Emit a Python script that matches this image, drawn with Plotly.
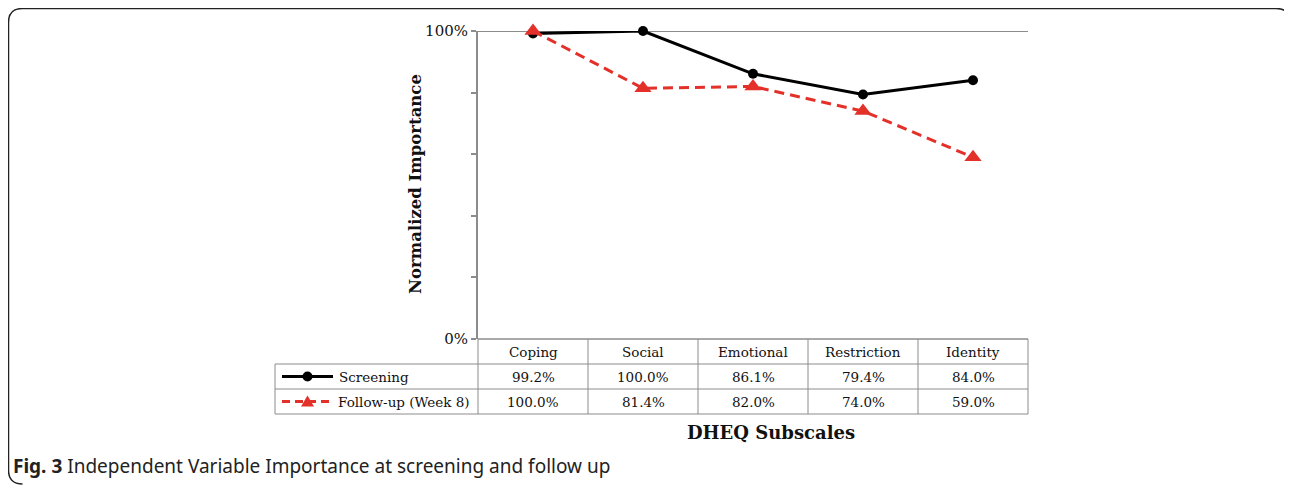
import plotly.graph_objects as go

categories = ["Coping", "Social", "Emotional", "Restriction", "Identity"]
screening = [99.2, 100.0, 86.1, 79.4, 84.0]
followup = [100.0, 81.4, 82.0, 74.0, 59.0]
series_names = ["Screening", "Follow-up (Week 8)"]
y_tickvals = [0, 20, 40, 60, 80, 100]
y_ticktext = ["0%", "", "", "", "", "100%"]

OFF = 8  # page body margin
W, H = 1292, 485
X0, X1, YT, YB = 478, 1028, 31, 339
PW, PH = X1 - X0, YB - YT

def px(x):
    return (x - X0) / PW

def py(y):
    return (YB - y) / PH

BLACK = "#000000"
RED = "#E3312A"
GRID = "#8C8C8C"
SERIF = "DejaVu Serif"

fig = go.Figure()
fig.add_trace(go.Scatter(
    x=categories, y=screening, name=series_names[0], mode="lines+markers",
    line=dict(color=BLACK, width=3),
    marker=dict(symbol="circle", size=10, color=BLACK),
    cliponaxis=False, showlegend=False))
fig.add_trace(go.Scatter(
    x=categories, y=followup, name=series_names[1], mode="lines+markers",
    line=dict(color=RED, width=3, dash="10px,6px"),
    marker=dict(symbol="triangle-up", size=15, color=RED),
    cliponaxis=False, showlegend=False))

shapes = []
def hline(x0, x1, y, color=GRID, w=1):
    shapes.append(dict(type="line", xref="paper", yref="paper",
                       x0=px(x0), x1=px(x1), y0=py(y), y1=py(y),
                       line=dict(color=color, width=w)))
def vline(x, y0, y1, color=GRID, w=1):
    shapes.append(dict(type="line", xref="paper", yref="paper",
                       x0=px(x), x1=px(x), y0=py(y0), y1=py(y1),
                       line=dict(color=color, width=w)))

# table grid
ROW = 25
hline(X0, X1, YB, w=1.5)
for r in (1, 2, 3):
    hline(275, X1, YB + r * ROW)
colw = PW / len(categories)
for i in range(len(categories) + 1):
    vline(X0 + i * colw, YB, YB + 3 * ROW)
vline(275, YB + ROW, YB + 3 * ROW)

# legend samples in table
ly1 = YB + ROW * 1.5
ly2 = YB + ROW * 2.5
shapes.append(dict(type="line", xref="paper", yref="paper", x0=px(282), x1=px(333),
                   y0=py(ly1), y1=py(ly1), line=dict(color=BLACK, width=3)))
shapes.append(dict(type="circle", xref="paper", yref="paper", x0=px(302.5), x1=px(312.5),
                   y0=py(ly1 + 5), y1=py(ly1 - 5), fillcolor=BLACK, line=dict(color=BLACK, width=0)))
shapes.append(dict(type="line", xref="paper", yref="paper", x0=px(282), x1=px(333),
                   y0=py(ly2), y1=py(ly2), line=dict(color=RED, width=3, dash="8px,5px")))
shapes.append(dict(type="path", xref="paper", yref="paper",
                   path=f"M {px(301)} {py(ly2+5)} L {px(314)} {py(ly2+5)} L {px(307.5)} {py(ly2-6)} Z",
                   fillcolor=RED, line=dict(color=RED, width=0)))

# outer rounded frame (left/top)
r = 14
fx0, fy0, fx1, fy1 = 8.5, 8.5, 1290, 484
path = (f"M {px(fx1)} {py(fy0 + r)} Q {px(fx1)} {py(fy0)} {px(fx1 - r)} {py(fy0)} "
        f"L {px(fx0 + r)} {py(fy0)} Q {px(fx0)} {py(fy0)} {px(fx0)} {py(fy0 + r)} "
        f"L {px(fx0)} {py(fy1 - r)} Q {px(fx0)} {py(fy1)} {px(fx0 + r)} {py(fy1)}")
shapes.append(dict(type="path", xref="paper", yref="paper", path=path,
                   line=dict(color="#222222", width=1.5)))

annotations = []
tfont = dict(family=SERIF, size=13.5, color="#111111")
def ann(**kw):
    base = dict(showarrow=False, xanchor="center", yanchor="middle")
    base.update(kw)
    annotations.append(base)

for c in categories:
    ann(x=c, y=py(YB + ROW * 0.5), xref="x", yref="paper", text=c, font=tfont)
for c, v in zip(categories, screening):
    ann(x=c, y=py(ly1), xref="x", yref="paper", text=f"{v:.1f}%", font=tfont)
for c, v in zip(categories, followup):
    ann(x=c, y=py(ly2), xref="x", yref="paper", text=f"{v:.1f}%", font=tfont)
ann(x=px(337), y=py(ly1), xref="paper", yref="paper", xanchor="left",
    text=series_names[0], font=tfont)
ann(x=px(336), y=py(ly2), xref="paper", yref="paper", xanchor="left",
    text=series_names[1], font=tfont)
ann(x=px(771), y=py(432), xref="paper", yref="paper",
    text="<b>DHEQ Subscales</b>", font=dict(family=SERIF, size=18, color="#111111"))
ann(x=px(415), y=py(184), xref="paper", yref="paper", textangle=-90,
    text="<b>Normalized Importance</b>", font=dict(family=SERIF, size=16.5, color="#111111"))
ann(x=px(11), y=py(466), xref="paper", yref="paper", xanchor="left",
    text="<b>Fig. 3</b> Independent Variable Importance at screening and follow up",
    font=dict(family="Noto Sans", size=19, color="#222222"))

fig.update_layout(
    width=W, height=H,
    margin=dict(l=X0 - OFF, r=W - X1 + OFF, t=YT - OFF, b=H - YB + OFF, pad=0),
    paper_bgcolor="white", plot_bgcolor="white",
    shapes=shapes, annotations=annotations,
    xaxis=dict(type="category", range=[-0.5, 4.5], showticklabels=False, ticks="",
               showgrid=False, zeroline=False, showline=False, fixedrange=True),
    yaxis=dict(range=[0, 100], tickvals=y_tickvals, ticktext=y_ticktext,
               ticks="outside", ticklen=5, tickcolor=GRID, tickwidth=1.5,
               showline=True, linecolor=GRID, linewidth=2,
               showgrid=False, zeroline=False,
               tickfont=dict(family=SERIF, size=15, color="#111111"), fixedrange=True),
)
fig.add_shape(type="line", xref="paper", yref="y", x0=0, x1=1, y0=100, y1=100,
              line=dict(color=GRID, width=2), layer="below")

fig.write_html("out.html")
